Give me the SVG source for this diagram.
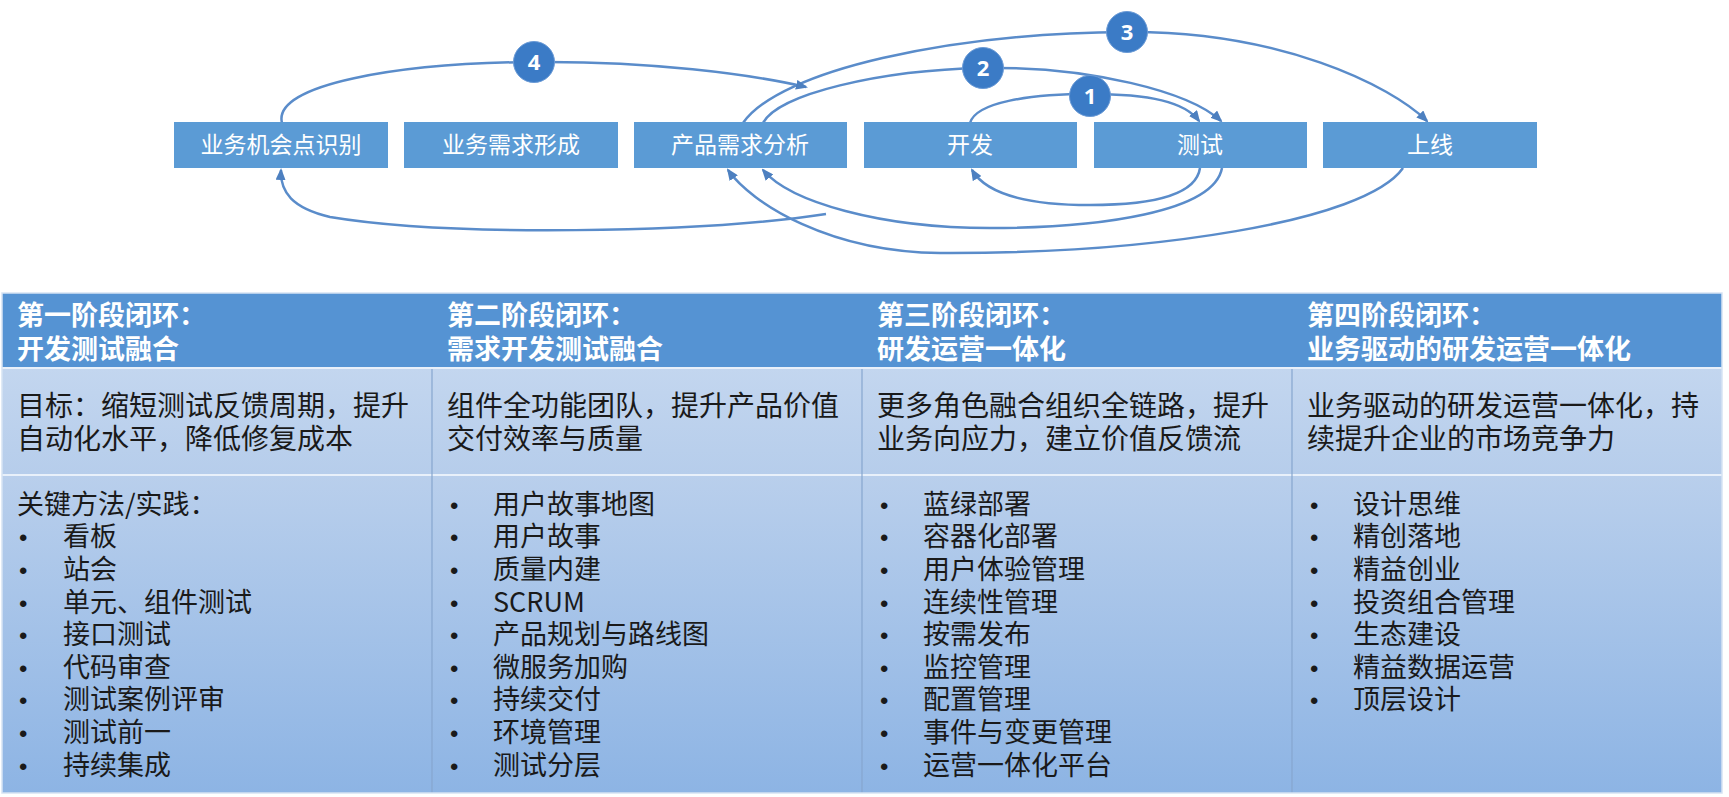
<svg xmlns="http://www.w3.org/2000/svg" width="1729" height="797" viewBox="0 0 1729 797">
<defs>
<marker id="arr" markerWidth="12" markerHeight="10" refX="10" refY="5" orient="auto" markerUnits="userSpaceOnUse">
<path d="M0,0 L12,5 L0,10 z" fill="#4d80c0"/>
</marker>
<linearGradient id="g3" x1="0" y1="0" x2="0" y2="1">
<stop offset="0" stop-color="#b9cfec"/>
<stop offset="1" stop-color="#8db4e4"/>
</linearGradient>
<linearGradient id="g2" x1="0" y1="0" x2="0" y2="1">
<stop offset="0" stop-color="#c3d6ef"/>
<stop offset="1" stop-color="#b6cdeb"/>
</linearGradient>
</defs>
<style>
.box{fill:#5b9bd5;}
.bt{font-family:"Noto Sans CJK SC","Noto Sans",sans-serif;font-size:23px;fill:#ffffff;text-anchor:middle;}
.con{fill:none;stroke:#5a8cca;stroke-width:2.5;}
.num{fill:#3b7bc6;stroke:#6a9ad6;stroke-width:1;}
.nt{font-family:"Open Sans","Liberation Sans",sans-serif;font-size:22px;font-weight:bold;fill:#ffffff;text-anchor:middle;}
.hd{font-family:"Noto Sans CJK SC",sans-serif;font-size:27px;font-weight:bold;fill:#ffffff;}
.r2{font-family:"Noto Sans CJK SC",sans-serif;font-size:28px;fill:#1a1a1a;}
.r3{font-family:"Noto Sans CJK SC",sans-serif;font-size:27px;fill:#1a1a1a;}
.bl{font-family:"Liberation Sans",sans-serif;font-size:24px;fill:#1a1a1a;}
.cl{stroke:#86a6cf;stroke-width:1.2;}
.rl{stroke:#e8f0fa;stroke-width:2;}
</style>

<g id="connectors">
<path class="con" d="M970,123 C976,102 1030,94 1090,94 C1150,94 1185,102 1199,121" marker-end="url(#arr)"/>
<path class="con" d="M763,123 C778,94 880,70 983,68 C1090,66 1190,92 1221,121" marker-end="url(#arr)"/>
<path class="con" d="M743,123 C780,70 950,33 1127,32 C1280,31 1390,85 1427,121" marker-end="url(#arr)"/>
<path class="con" d="M282,123 C272,84 400,63 534,62 C650,61 750,74 806,87" marker-end="url(#arr)"/>
<path class="con" d="M1200,168 C1196,196 1150,205 1090,205 C1020,205 985,192 972,170" marker-end="url(#arr)"/>
<path class="con" d="M1222,168 C1214,212 1100,228 990,228 C880,228 790,202 763,170" marker-end="url(#arr)"/>
<path class="con" d="M1403,168 C1365,222 1150,254 940,253 C830,252 752,204 728,170" marker-end="url(#arr)"/>
<path class="con" d="M826,214 C700,233 450,237 330,217 C292,208 280,192 281,170" marker-end="url(#arr)"/>
</g>

<g id="n1"><rect class="box" x="174" y="122" width="214" height="46"/><text class="bt" x="281" y="153">业务机会点识别</text></g>
<g id="n2"><rect class="box" x="404" y="122" width="214" height="46"/><text class="bt" x="511" y="153">业务需求形成</text></g>
<g id="n3"><rect class="box" x="634" y="122" width="213" height="46"/><text class="bt" x="740" y="153">产品需求分析</text></g>
<g id="n4"><rect class="box" x="864" y="122" width="213" height="46"/><text class="bt" x="970" y="153">开发</text></g>
<g id="n5"><rect class="box" x="1094" y="122" width="213" height="46"/><text class="bt" x="1200" y="153">测试</text></g>
<g id="n6"><rect class="box" x="1323" y="122" width="214" height="46"/><text class="bt" x="1430" y="153">上线</text></g>

<g id="c1"><circle class="num" cx="1090" cy="96" r="20.5"/><text class="nt" x="1090" y="104">1</text></g>
<g id="c2"><circle class="num" cx="983" cy="68" r="20.5"/><text class="nt" x="983" y="76">2</text></g>
<g id="c3"><circle class="num" cx="1127" cy="32" r="20.5"/><text class="nt" x="1127" y="40">3</text></g>
<g id="c4"><circle class="num" cx="534" cy="62" r="20.5"/><text class="nt" x="534" y="70">4</text></g>

<g id="table">
<rect x="2" y="293" width="1720" height="75" fill="#5593d3"/>
<rect x="2" y="368" width="1720" height="107" fill="url(#g2)"/>
<rect x="2" y="475" width="1720" height="318" fill="url(#g3)"/>
<line class="rl" x1="2" y1="368" x2="1722" y2="368"/>
<line class="rl" x1="2" y1="475" x2="1722" y2="475"/>
<line class="cl" x1="432" y1="369" x2="432" y2="793"/>
<line class="cl" x1="862" y1="369" x2="862" y2="793"/>
<line class="cl" x1="1292" y1="369" x2="1292" y2="793"/>
<rect x="2" y="293" width="1720" height="500" fill="none" stroke="#d6e3f3" stroke-width="1.5"/>
</g>

<g id="col1">
<text class="hd" x="17" y="325">第一阶段闭环：</text>
<text class="hd" x="17" y="359">开发测试融合</text>
<text class="r2" x="17" y="416">目标：缩短测试反馈周期，提升</text>
<text class="r2" x="17" y="449">自动化水平，降低修复成本</text>
<text class="r3" x="17" y="514">关键方法/实践：</text>
<text class="bl" x="19" y="546">•</text><text class="r3" x="63" y="546">看板</text>
<text class="bl" x="19" y="579">•</text><text class="r3" x="63" y="579">站会</text>
<text class="bl" x="19" y="612">•</text><text class="r3" x="63" y="612">单元、组件测试</text>
<text class="bl" x="19" y="644">•</text><text class="r3" x="63" y="644">接口测试</text>
<text class="bl" x="19" y="677">•</text><text class="r3" x="63" y="677">代码审查</text>
<text class="bl" x="19" y="709">•</text><text class="r3" x="63" y="709">测试案例评审</text>
<text class="bl" x="19" y="742">•</text><text class="r3" x="63" y="742">测试前一</text>
<text class="bl" x="19" y="775">•</text><text class="r3" x="63" y="775">持续集成</text>
</g>

<g id="col2">
<text class="hd" x="447" y="325">第二阶段闭环：</text>
<text class="hd" x="447" y="359">需求开发测试融合</text>
<text class="r2" x="447" y="416">组件全功能团队，提升产品价值</text>
<text class="r2" x="447" y="449">交付效率与质量</text>
<text class="bl" x="450" y="514">•</text><text class="r3" x="493" y="514">用户故事地图</text>
<text class="bl" x="450" y="546">•</text><text class="r3" x="493" y="546">用户故事</text>
<text class="bl" x="450" y="579">•</text><text class="r3" x="493" y="579">质量内建</text>
<text class="bl" x="450" y="612">•</text><text class="r3" x="493" y="612">SCRUM</text>
<text class="bl" x="450" y="644">•</text><text class="r3" x="493" y="644">产品规划与路线图</text>
<text class="bl" x="450" y="677">•</text><text class="r3" x="493" y="677">微服务加购</text>
<text class="bl" x="450" y="709">•</text><text class="r3" x="493" y="709">持续交付</text>
<text class="bl" x="450" y="742">•</text><text class="r3" x="493" y="742">环境管理</text>
<text class="bl" x="450" y="775">•</text><text class="r3" x="493" y="775">测试分层</text>
</g>

<g id="col3">
<text class="hd" x="877" y="325">第三阶段闭环：</text>
<text class="hd" x="877" y="359">研发运营一体化</text>
<text class="r2" x="877" y="416">更多角色融合组织全链路，提升</text>
<text class="r2" x="877" y="449">业务向应力，建立价值反馈流</text>
<text class="bl" x="880" y="514">•</text><text class="r3" x="923" y="514">蓝绿部署</text>
<text class="bl" x="880" y="546">•</text><text class="r3" x="923" y="546">容器化部署</text>
<text class="bl" x="880" y="579">•</text><text class="r3" x="923" y="579">用户体验管理</text>
<text class="bl" x="880" y="612">•</text><text class="r3" x="923" y="612">连续性管理</text>
<text class="bl" x="880" y="644">•</text><text class="r3" x="923" y="644">按需发布</text>
<text class="bl" x="880" y="677">•</text><text class="r3" x="923" y="677">监控管理</text>
<text class="bl" x="880" y="709">•</text><text class="r3" x="923" y="709">配置管理</text>
<text class="bl" x="880" y="742">•</text><text class="r3" x="923" y="742">事件与变更管理</text>
<text class="bl" x="880" y="775">•</text><text class="r3" x="923" y="775">运营一体化平台</text>
</g>

<g id="col4">
<text class="hd" x="1307" y="325">第四阶段闭环：</text>
<text class="hd" x="1307" y="359">业务驱动的研发运营一体化</text>
<text class="r2" x="1307" y="416">业务驱动的研发运营一体化，持</text>
<text class="r2" x="1307" y="449">续提升企业的市场竞争力</text>
<text class="bl" x="1310" y="514">•</text><text class="r3" x="1353" y="514">设计思维</text>
<text class="bl" x="1310" y="546">•</text><text class="r3" x="1353" y="546">精创落地</text>
<text class="bl" x="1310" y="579">•</text><text class="r3" x="1353" y="579">精益创业</text>
<text class="bl" x="1310" y="612">•</text><text class="r3" x="1353" y="612">投资组合管理</text>
<text class="bl" x="1310" y="644">•</text><text class="r3" x="1353" y="644">生态建设</text>
<text class="bl" x="1310" y="677">•</text><text class="r3" x="1353" y="677">精益数据运营</text>
<text class="bl" x="1310" y="709">•</text><text class="r3" x="1353" y="709">顶层设计</text>
</g>
</svg>
